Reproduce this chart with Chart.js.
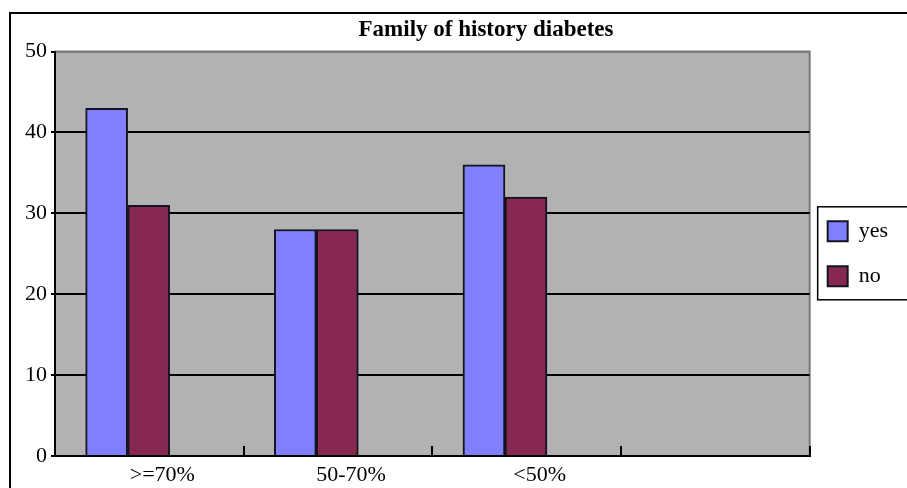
<!DOCTYPE html>
<html>
<head>
<meta charset="utf-8">
<script src="https://cdn.jsdelivr.net/npm/chart.js@4.4.1/dist/chart.umd.min.js"></script>
<style>
  html, body { margin: 0; padding: 0; background: #fff; overflow: hidden; width: 907px; height: 488px; }
  #frame { position: absolute; left: 9px; top: 12px; border: 2px solid #000; width: 950px; height: 490px; }
  canvas { display: block; }
</style>
</head>
<body>
<div id="frame"><canvas id="chart" width="950" height="490"></canvas></div>
<script>
// Category slots along the x axis (the fourth slot is left empty)
const categories = ['>=70%', '50-70%', '<50%', ''];
// Percentage of respondents per group
const yesValues = [43, 28, 36];
const noValues = [31, 28, 32];
// Value axis ticks
const yTicks = [0, 10, 20, 30, 40, 50];

const serif = "'Liberation Serif', 'Times New Roman', serif";
const plotFill = '#b2b2b2';
const plotEdge = '#7a7a7a';
// Bar groups sit left of each slot centre, as fractions of one slot
const groupShift = 0.385;

// Grey plot area with a darker edge on the top and right
const plotBackground = {
  id: 'plotBackground',
  beforeDraw(chart) {
    const { ctx, chartArea: a } = chart;
    ctx.save();
    ctx.fillStyle = plotFill;
    ctx.fillRect(a.left, a.top, a.right - a.left, a.bottom - a.top);
    ctx.strokeStyle = plotEdge;
    ctx.lineWidth = 2;
    ctx.beginPath();
    ctx.moveTo(a.left, a.top);
    ctx.lineTo(a.right, a.top);
    ctx.lineTo(a.right, a.bottom);
    ctx.stroke();
    ctx.restore();
  }
};

// Title centred on the whole canvas; legend just right of the plot, boxed
const frameLayout = {
  id: 'frameLayout',
  afterLayout(chart) {
    const tb = chart.titleBlock;
    if (tb) {
      tb.left = 0;
      tb.right = chart.width;
    }
    const lg = chart.legend;
    const w = lg.right - lg.left;
    lg.left = chart.chartArea.right + 18 - lg.options.labels.padding;
    lg.right = lg.left + w;
  },
  afterDraw(chart) {
    const { ctx } = chart;
    const lg = chart.legend;
    const x0 = lg.left + lg.options.labels.padding - 10;
    const mid = (lg.top + lg.bottom) / 2;
    ctx.save();
    ctx.strokeStyle = '#000';
    ctx.lineWidth = 1.5;
    ctx.strokeRect(x0, mid - 47, 130, 93);
    ctx.restore();
  }
};

const toPoints = values => values.map((v, i) => ({ x: i, y: v }));

new Chart(document.getElementById('chart'), {
  type: 'bar',
  data: {
    datasets: [
      {
        label: 'yes',
        data: toPoints(yesValues),
        xAxisID: 'xb',
        backgroundColor: '#8080ff',
        borderColor: '#14141f',
        borderWidth: 2,
        barThickness: 42
      },
      {
        label: 'no',
        data: toPoints(noValues),
        xAxisID: 'xb',
        backgroundColor: '#86284f',
        borderColor: '#14141f',
        borderWidth: 2,
        barThickness: 42
      }
    ]
  },
  options: {
    responsive: false,
    animation: false,
    events: [],
    layout: { padding: { left: 0, right: 58, top: 0, bottom: 0 } },
    plugins: {
      title: {
        display: true,
        text: 'Family of history diabetes',
        color: '#000',
        font: { family: serif, size: 23, weight: 'bold' },
        padding: { top: 2, bottom: 8 }
      },
      legend: {
        display: true,
        position: 'right',
        fullSize: false,
        labels: {
          color: '#000',
          font: { family: serif, size: 22 },
          boxWidth: 20,
          boxHeight: 20,
          padding: 23
        }
      },
      tooltip: { enabled: false }
    },
    scales: {
      x: {
        type: 'category',
        labels: categories,
        position: 'bottom',
        offset: true,
        grid: {
          offset: true,
          drawOnChartArea: false,
          color: '#000',
          lineWidth: 2,
          tickLength: -10
        },
        border: { color: '#000', width: 2 },
        ticks: {
          color: '#000',
          font: { family: serif, size: 22 },
          padding: 16,
          labelOffset: 13,
          maxRotation: 0,
          autoSkip: false
        },
        afterFit(scale) { scale.height = 48; }
      },
      xb: {
        type: 'linear',
        display: false,
        offset: false,
        bounds: 'data',
        min: -groupShift,
        max: categories.length - groupShift
      },
      y: {
        min: yTicks[0],
        max: yTicks[yTicks.length - 1],
        ticks: {
          stepSize: yTicks[1] - yTicks[0],
          color: '#000',
          font: { family: serif, size: 22 },
          padding: 4
        },
        grid: {
          color: ctx => (ctx.tick && ctx.tick.value === yTicks[yTicks.length - 1]) ? plotEdge : '#000',
          tickColor: '#000',
          lineWidth: 2,
          tickLength: 4
        },
        border: { color: '#000', width: 2 },
        afterFit(scale) { scale.width = 44; }
      }
    }
  },
  plugins: [plotBackground, frameLayout]
});
</script>
</body>
</html>
